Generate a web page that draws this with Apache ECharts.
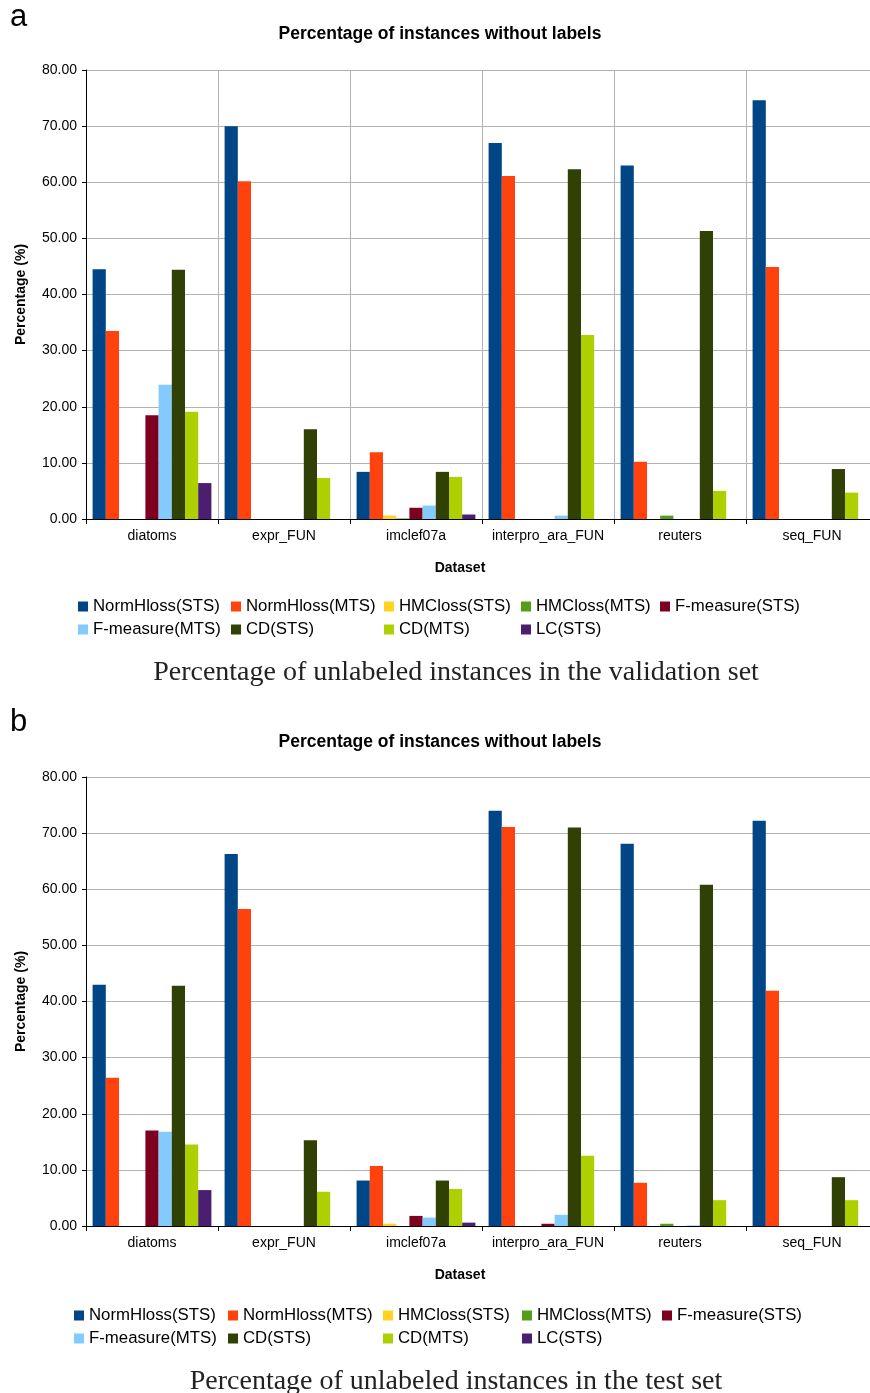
<!DOCTYPE html>
<html>
<head>
<meta charset="utf-8">
<script src="https://cdn.jsdelivr.net/npm/echarts@6/dist/echarts.min.js"></script>
<style>
html,body{margin:0;padding:0;background:#fff;overflow:hidden;}
#chart{width:880px;height:1393px;}
</style>
</head>
<body>
<div id="chart"></div>
<script>
// ---- data ----
const categories = ['diatoms', 'expr_FUN', 'imclef07a', 'interpro_ara_FUN', 'reuters', 'seq_FUN'];
const seriesNames = ['NormHloss(STS)', 'NormHloss(MTS)', 'HMCloss(STS)', 'HMCloss(MTS)', 'F-measure(STS)', 'F-measure(MTS)', 'CD(STS)', 'CD(MTS)', 'LC(STS)'];
const yTicks = [0, 10, 20, 30, 40, 50, 60, 70, 80];

// (a) validation set
const valNormHlossSTS = [44.5, 70.0, 8.4, 67.0, 63.0, 74.6];
const valNormHlossMTS = [33.5, 60.2, 11.9, 61.1, 10.2, 44.9];
const valHMClossSTS   = [0, 0, 0.6, 0, 0, 0];
const valHMClossMTS   = [0, 0, 0.1, 0, 0.6, 0];
const valFmeasureSTS  = [18.5, 0, 2.0, 0, 0, 0];
const valFmeasureMTS  = [23.9, 0, 2.4, 0.6, 0, 0];
const valCDSTS        = [44.4, 16.0, 8.4, 62.3, 51.3, 8.9];
const valCDMTS        = [19.1, 7.3, 7.5, 32.8, 5.0, 4.7];
const valLCSTS        = [6.4, 0, 0.8, 0, 0, 0];

// (b) test set
const testNormHlossSTS = [43.0, 66.3, 8.1, 74.0, 68.1, 72.2];
const testNormHlossMTS = [26.4, 56.5, 10.7, 71.1, 7.7, 41.9];
const testHMClossSTS   = [0, 0, 0.4, 0, 0, 0];
const testHMClossMTS   = [0, 0, 0, 0, 0.4, 0];
const testFmeasureSTS  = [17.0, 0, 1.8, 0.4, 0, 0];
const testFmeasureMTS  = [16.8, 0, 1.5, 2.0, 0.1, 0];
const testCDSTS        = [42.8, 15.3, 8.1, 71.0, 60.8, 8.7];
const testCDMTS        = [14.5, 6.1, 6.6, 12.5, 4.6, 4.6];
const testLCSTS        = [6.4, 0, 0.6, 0, 0, 0];

const valSeries = [valNormHlossSTS, valNormHlossMTS, valHMClossSTS, valHMClossMTS, valFmeasureSTS, valFmeasureMTS, valCDSTS, valCDMTS, valLCSTS];
const testSeries = [testNormHlossSTS, testNormHlossMTS, testHMClossSTS, testHMClossMTS, testFmeasureSTS, testFmeasureMTS, testCDSTS, testCDMTS, testLCSTS];

// ---- style ----
const colors = ['#004586', '#ff420e', '#ffd320', '#579d1c', '#7e0021', '#83caff', '#314004', '#aecf00', '#4b1f6f'];
const SANS = '"Liberation Sans", Arial, sans-serif';
const SERIF = '"Liberation Serif", "Times New Roman", serif';

const panels = [
  {top: 70, titleTop: 25, letter: 'a', letterTop: 2, caption: 'Percentage of unlabeled instances in the validation set', captionY: 674, datasetY: 568, legendY: 598, legendX: [78, 231, 384, 521, 660], vsplit: true, data: valSeries},
  {top: 777, titleTop: 733, letter: 'b', letterTop: 707, caption: 'Percentage of unlabeled instances in the test set', captionY: 1383, datasetY: 1275, legendY: 1307, legendX: [74, 228, 383, 522, 662], vsplit: false, data: testSeries}
];

const grids = [], xAxes = [], yAxes = [], series = [], legends = [], titles = [], graphics = [];
panels.forEach((p, gi) => {
  grids.push({left: 86, top: p.top, width: 792, height: 449, containLabel: false});
  xAxes.push({
    type: 'category', gridIndex: gi, data: categories,
    axisLine: {show: true, lineStyle: {color: '#000', width: 1}},
    axisTick: {show: true, interval: 0, length: 5, lineStyle: {color: '#000'}},
    axisLabel: {interval: 0, fontFamily: SANS, fontSize: 14, color: '#000', margin: 10},
    splitLine: {show: p.vsplit, interval: 0, lineStyle: {color: '#b3b3b3', width: 1}}
  });
  yAxes.push({
    type: 'value', gridIndex: gi, min: 0, max: 80, interval: 10,
    axisLine: {show: true, lineStyle: {color: '#000', width: 1}},
    axisTick: {show: true, length: 4, lineStyle: {color: '#000'}},
    axisLabel: {fontFamily: SANS, fontSize: 14, color: '#000', margin: 9,
      formatter: v => yTicks.includes(v) ? v.toFixed(2) : ''},
    splitLine: {show: true, lineStyle: {color: '#b3b3b3', width: 1}}
  });
  p.data.forEach((vals, k) => {
    series.push({
      type: 'bar', name: seriesNames[k], xAxisIndex: gi, yAxisIndex: gi,
      data: vals, barGap: '0%', barCategoryGap: '10%',
      itemStyle: {color: colors[k]}, emphasis: {disabled: true}
    });
  });
  titles.push({
    text: 'Percentage of instances without labels', left: 440, top: p.titleTop, textAlign: 'center',
    padding: 0, textStyle: {fontFamily: SANS, fontSize: 17.5, fontWeight: 'bold', color: '#000'}
  });
  titles.push({
    text: p.caption, left: 456, top: p.captionY - 15, textAlign: 'center', padding: 0,
    textStyle: {fontFamily: SERIF, fontSize: 28, fontWeight: 'normal', color: '#222'}
  });
  titles.push({
    text: p.letter, left: 10, top: p.letterTop, padding: 0,
    textStyle: {fontFamily: SANS, fontSize: 31, fontWeight: 'normal', color: '#000'}
  });
  // legend columns
  const cols = [[0, 5], [1, 6], [2, 7], [3, 8], [4]];
  cols.forEach((c, ci) => {
    legends.push({
      orient: 'vertical', left: p.legendX[ci], top: p.legendY, padding: 0,
      itemWidth: 10, itemHeight: 10, itemGap: 6, icon: 'rect',
      data: c.map(i => seriesNames[i]), selectedMode: false,
      textStyle: {fontFamily: SANS, fontSize: 16.8, color: '#000', lineHeight: 16}
    });
  });
  graphics.push({
    type: 'text', x: 21, y: p.top + 224.5, rotation: Math.PI / 2,
    style: {text: 'Percentage (%)', font: 'bold 14px ' + SANS, fill: '#000', textAlign: 'center', textVerticalAlign: 'middle'}
  });
  graphics.push({
    type: 'text', x: 460, y: p.datasetY,
    style: {text: 'Dataset', font: 'bold 14px ' + SANS, fill: '#000', textAlign: 'center', textVerticalAlign: 'middle'}
  });
});

const chart = echarts.init(document.getElementById('chart'), null, {renderer: 'canvas'});
chart.setOption({
  animation: false,
  backgroundColor: '#fff',
  title: titles,
  legend: legends,
  grid: grids,
  xAxis: xAxes,
  yAxis: yAxes,
  series: series,
  graphic: graphics
});
</script>
</body>
</html>
